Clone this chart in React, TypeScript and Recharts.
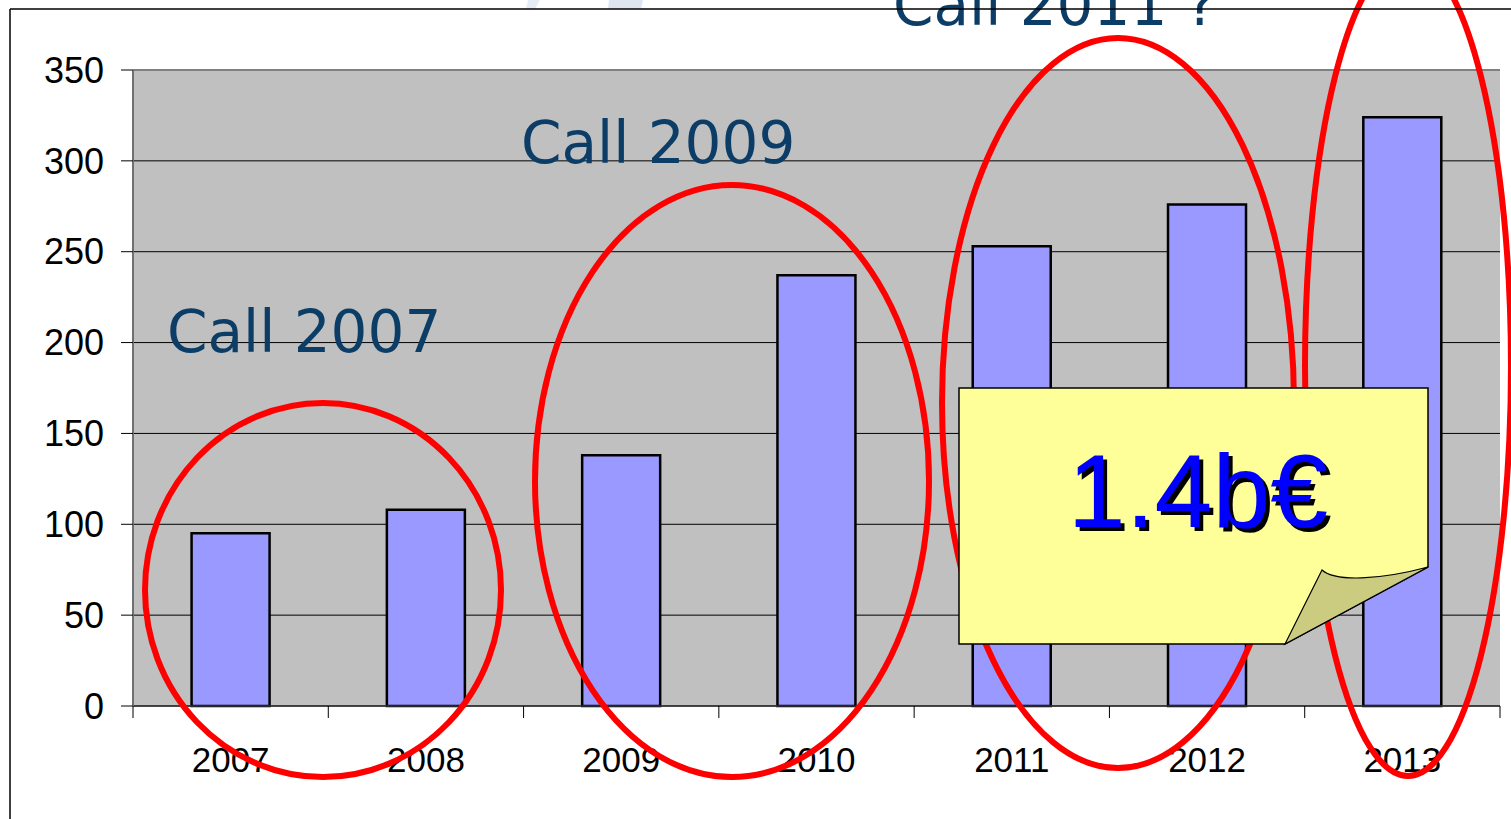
import React from "react";
import { BarChart, Bar, XAxis, YAxis, CartesianGrid, ReferenceLine } from "recharts";

const years = ["2007", "2008", "2009", "2010", "2011", "2012", "2013"];
const amounts = [95, 108, 138, 237, 253, 276, 324];
const yTicks = [0, 50, 100, 150, 200, 250, 300, 350];

const data = years.map((year, i) => ({ year, amount: amounts[i] }));

const labelFont = '"Liberation Sans", Arial, sans-serif';
const callFont = '"DejaVu Sans", Verdana, sans-serif';
const callColor = "#0b3d66";

// x ticks sit on the category boundaries, labels in the middle (Excel style)
const YearTick = (props: any) => {
  const { x, y, payload, index, visibleTicksCount } = props;
  const half = payload?.offset ?? 0;
  const isLast = index === visibleTicksCount - 1;
  return (
    <g>
      <line x1={x - half} y1={y - 12} x2={x - half} y2={y} stroke="#000" strokeWidth={1} />
      {isLast && <line x1={x + half} y1={y - 12} x2={x + half} y2={y} stroke="#000" strokeWidth={1} />}
      <text x={x} y={y + 54} textAnchor="middle" fontFamily={labelFont} fontSize={35} fill="#000">
        {payload.value}
      </text>
    </g>
  );
};

export default function App() {
  return (
    <div
      style={{
        position: "absolute",
        left: 0,
        top: 0,
        width: 1511,
        height: 819,
        background: "#fff",
        overflow: "hidden",
      }}
    >
      <BarChart
        width={1511}
        height={819}
        data={data}
        margin={{ top: 70, right: 11, bottom: 53, left: 0 }}
        barCategoryGap="30%"
      >
        <CartesianGrid vertical={false} stroke="#000" strokeWidth={1} fill="#c0c0c0" fillOpacity={1} />
        <ReferenceLine y={350} stroke="#808080" strokeWidth={2} />
        <XAxis
          dataKey="year"
          height={60}
          tickSize={12}
          tickMargin={0}
          tickLine={false}
          tick={<YearTick />}
          axisLine={{ stroke: "#333", strokeWidth: 1.5 }}
          interval={0}
        />
        <YAxis
          width={133}
          domain={[0, 350]}
          ticks={yTicks}
          interval={0}
          tickSize={12}
          tickMargin={17}
          tickLine={{ stroke: "#000" }}
          axisLine={{ stroke: "#707070", strokeWidth: 2 }}
          tick={{ fontFamily: labelFont, fontSize: 36, fill: "#000" }}
        />
        <Bar dataKey="amount" fill="#9999ff" stroke="#000" strokeWidth={2.5} isAnimationActive={false} />
      </BarChart>

      <svg
        width={1511}
        height={819}
        style={{ position: "absolute", left: 0, top: 0, pointerEvents: "none" }}
      >
        {/* faint watermark peeking above the frame */}
        <polygon points="528,0 540,0 535,9 526,9" fill="#e6ecf5" />
        <polygon points="609,0 643,0 641,9 608,9" fill="#dde6f1" />

        <text x={167} y={352} fontFamily={callFont} fontSize={58} fill={callColor}>
          Call 2007
        </text>
        <text x={521} y={163} fontFamily={callFont} fontSize={58} fill={callColor}>
          Call 2009
        </text>
        <text x={893} y={25} fontFamily={callFont} fontSize={58} fill={callColor}>
          Call 2011 ?
        </text>

        <g fill="none" stroke="#ff0000" strokeWidth={6}>
          <ellipse cx={323} cy={590} rx={178} ry={187} />
          <ellipse cx={732} cy={481} rx={197} ry={296} />
          <ellipse cx={1118} cy={403} rx={176} ry={365} />
          <ellipse cx={1408} cy={366} rx={103} ry={410} />
        </g>

        <path d="M959,388 H1428 V567 L1285,644 H959 Z" fill="#ffff99" stroke="#000" strokeWidth={1.5} />
        <path
          d="M1322,570 C1335,582 1380,580 1428,567 L1285,644 Z"
          fill="#cccc80"
          stroke="#000"
          strokeWidth={1.2}
        />
        <text x={1202} y={531} textAnchor="middle" fontFamily={labelFont} fontSize={104} fill="#000">
          1.4b€
        </text>
        <text x={1198} y={527} textAnchor="middle" fontFamily={labelFont} fontSize={104} fill="#0000ff">
          1.4b€
        </text>

        <line x1={10} y1={9} x2={1511} y2={9} stroke="#000" strokeWidth={1.5} />
        <line x1={10} y1={9} x2={10} y2={819} stroke="#000" strokeWidth={1.5} />
      </svg>
    </div>
  );
}
